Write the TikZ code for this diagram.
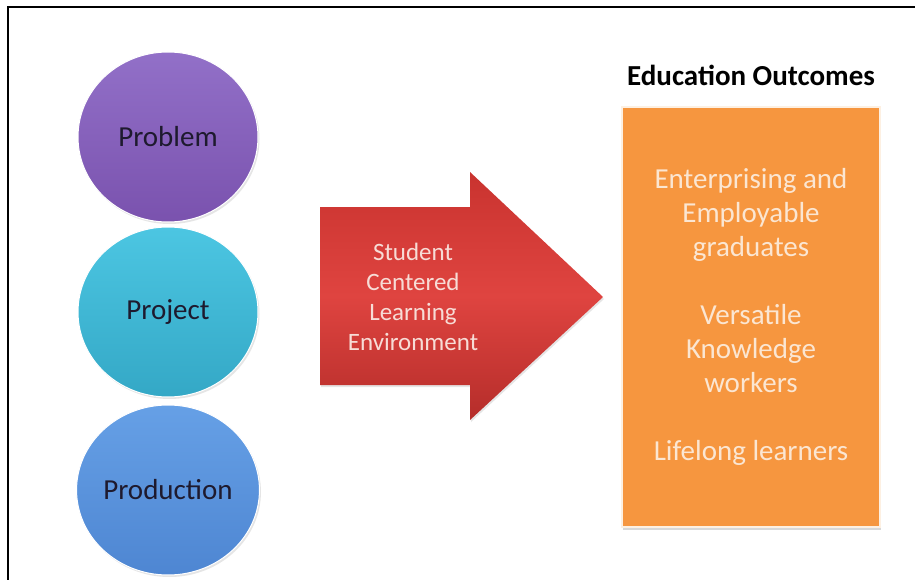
\documentclass[tikz,border=0pt]{standalone}
\usepackage{fontspec}
\setmainfont{Carlito}
\usetikzlibrary{shapes.geometric,shadows}
\definecolor{purpTop}{HTML}{9270C8}
\definecolor{purpBot}{HTML}{7A52AE}
\definecolor{cyanTop}{HTML}{4CC6E2}
\definecolor{cyanBot}{HTML}{34A8C6}
\definecolor{blueTop}{HTML}{66A0E6}
\definecolor{blueBot}{HTML}{4E86D2}
\definecolor{redTop}{HTML}{C9332F}
\definecolor{redMid}{HTML}{DF4440}
\definecolor{redBot}{HTML}{B52D2A}
\definecolor{orangeFill}{HTML}{F6963F}
\definecolor{creamText}{HTML}{FBE6D2}
\definecolor{pinkText}{HTML}{F7DCD6}
\definecolor{ballText}{HTML}{1E1A2E}
\definecolor{rimCol}{HTML}{FDF0E2}
\begin{document}
\begin{tikzpicture}[x=1pt,y=-1pt,
  ball/.style={ellipse, minimum width=180pt, minimum height=170pt, inner sep=0pt,
    font=\fontsize{29}{34}\selectfont, text=ballText, draw=white, line width=1pt,
    drop shadow={opacity=0.2, shadow xshift=1.5pt, shadow yshift=-2pt}},
  arrowtext/.style={align=center, text=pinkText, font=\fontsize{25}{30}\selectfont},
  outbox/.style={rectangle, minimum width=258pt, minimum height=420pt, fill=orangeFill,
    draw=rimCol, line width=2.5pt, align=center, text=creamText,
    font=\fontsize{29}{34}\selectfont,
    drop shadow={opacity=0.3, shadow xshift=1pt, shadow yshift=-3pt}},
  titletext/.style={font=\fontsize{29}{34}\selectfont\bfseries, text=black}
]
\useasboundingbox (0,0) rectangle (915,580);
\fill[white] (0,0) rectangle (915,580);
\draw[line width=2pt] (8,582) -- (8,7) -- (917,7);

\node[ball, top color=purpTop, bottom color=purpBot] (problem) at (168,137) {Problem};
\node[ball, top color=cyanTop, bottom color=cyanBot] (project) at (168,312) {Project};
\node[ball, top color=blueTop, bottom color=blueBot] (production) at (168,490) {Production};

\path[top color=redTop, bottom color=redBot, middle color=redMid,
      drop shadow={opacity=0.2, shadow xshift=1pt, shadow yshift=-2pt}]
  (320,207) -- (470,207) -- (470,172) -- (603,297) -- (470,420) -- (470,385) -- (320,385) -- cycle;
\node[arrowtext] (sle) at (413,297) {Student\\Centered\\Learning\\Environment};

\node[titletext] (title) at (751,75) {Education Outcomes};
\node[outbox] (outcomes) at (751,317) {Enterprising and\\Employable\\graduates\\[34pt]Versatile\\Knowledge\\workers\\[34pt]Lifelong learners};
\end{tikzpicture}
\end{document}
